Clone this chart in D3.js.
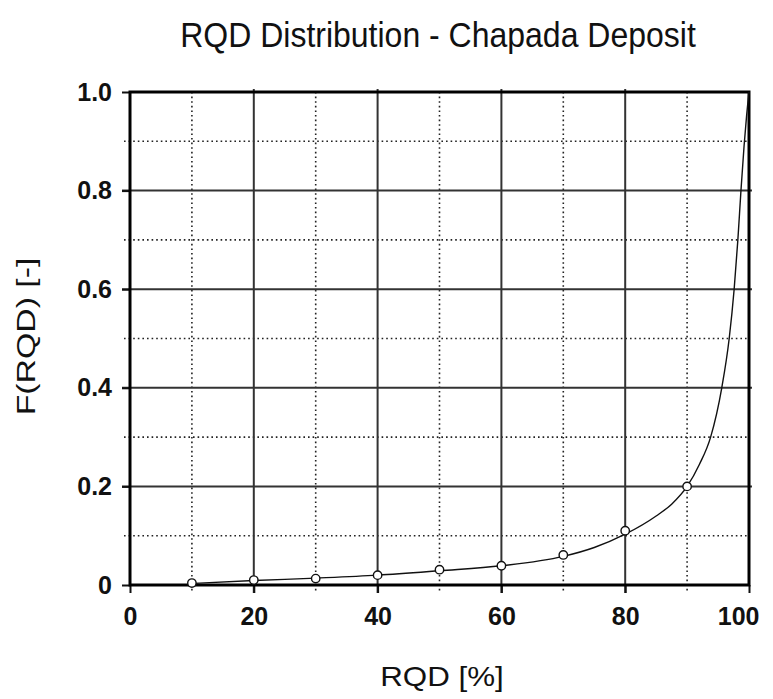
<!DOCTYPE html>
<html>
<head>
<meta charset="utf-8">
<script src="https://cdn.jsdelivr.net/npm/d3@7"></script>
<style>
  body { margin: 0; background: #fff; }
  svg text { font-family: "Liberation Sans", Arial, sans-serif; fill: #111; }
</style>
</head>
<body>
<div id="chart"></div>
<script>
// RQD distribution: observed points and fitted cumulative curve

const rqdPoints = [10, 20, 30, 40, 50, 60, 70, 80, 90];
const fPoints = [0.004, 0.01, 0.013, 0.02, 0.031, 0.039, 0.061, 0.11, 0.2];

// fitted curve
const rqdCurve = [10, 20, 30, 40, 50, 60, 70, 75, 80, 85, 87.5, 90, 92, 93.8, 95.6, 96.8, 97.6, 98.2, 98.7, 99.2, 99.6, 100];
const fCurve = [0.003, 0.009, 0.014, 0.02, 0.029, 0.039, 0.058, 0.076, 0.103, 0.14, 0.164, 0.2, 0.245, 0.3, 0.4, 0.5, 0.6, 0.7, 0.8, 0.89, 0.95, 1.0];

const xTicks = [0, 20, 40, 60, 80, 100];
const yTicks = [0, 0.2, 0.4, 0.6, 0.8, 1.0];
const xMinor = [10, 30, 50, 70, 90];
const yMinor = [0.1, 0.3, 0.5, 0.7, 0.9];

const width = 773, height = 699;
const margin = { top: 92, right: 24, bottom: 114, left: 130 };
const innerWidth = width - margin.left - margin.right;
const innerHeight = height - margin.top - margin.bottom;

const svg = d3.select("#chart")
    .append("svg")
    .attr("width", width)
    .attr("height", height);

const g = svg.append("g")
    .attr("transform", `translate(${margin.left},${margin.top})`);

// Scales
const x = d3.scaleLinear().domain([0, 100]).range([0, innerWidth]);
const y = d3.scaleLinear().domain([0, 1]).range([innerHeight, 0]);

// Minor grid (dotted)
g.append("g")
    .selectAll("line")
    .data(xMinor)
    .enter()
    .append("line")
    .attr("x1", d => x(d)).attr("x2", d => x(d))
    .attr("y1", 0).attr("y2", innerHeight + 6)
    .attr("stroke", "#222")
    .attr("stroke-width", 1.6)
    .attr("stroke-dasharray", "1.6,3");

g.append("g")
    .selectAll("line")
    .data(yMinor)
    .enter()
    .append("line")
    .attr("x1", -6).attr("x2", innerWidth)
    .attr("y1", d => y(d)).attr("y2", d => y(d))
    .attr("stroke", "#222")
    .attr("stroke-width", 1.6)
    .attr("stroke-dasharray", "1.6,3");

// Major grid (solid)
g.append("g")
    .selectAll("line")
    .data(xTicks.slice(1, -1))
    .enter()
    .append("line")
    .attr("x1", d => x(d)).attr("x2", d => x(d))
    .attr("y1", -3).attr("y2", innerHeight + 8)
    .attr("stroke", "#333")
    .attr("stroke-width", 2);

g.append("g")
    .selectAll("line")
    .data(yTicks.slice(1, -1))
    .enter()
    .append("line")
    .attr("x1", -8).attr("x2", innerWidth + 3)
    .attr("y1", d => y(d)).attr("y2", d => y(d))
    .attr("stroke", "#333")
    .attr("stroke-width", 2);

// Axes
const xAxis = g.append("g")
    .attr("transform", `translate(0,${innerHeight})`)
    .call(d3.axisBottom(x).tickValues(xTicks).tickSize(8).tickPadding(14).tickFormat(d3.format("d")));

const yAxis = g.append("g")
    .call(d3.axisLeft(y).tickValues(yTicks).tickSize(8).tickPadding(10)
        .tickFormat(d => d === 0 ? "0" : d3.format(".1f")(d)));

[xAxis, yAxis].forEach(a => {
    a.select(".domain").remove();
    a.selectAll(".tick line").attr("stroke", "#111").attr("stroke-width", 2);
    a.selectAll("text")
        .attr("font-size", "25px")
        .attr("font-weight", "bold")
        .attr("fill", "#111");
});

// last x label sits a bit inside so it is not clipped
xAxis.selectAll(".tick text")
    .filter(d => d === 100)
    .attr("text-anchor", "end")
    .attr("x", 10);

// Frame
g.append("rect")
    .attr("x", 0).attr("y", 0)
    .attr("width", innerWidth).attr("height", innerHeight)
    .attr("fill", "none")
    .attr("stroke", "#000")
    .attr("stroke-width", 3);

// Fitted curve
const curveData = rqdCurve.map((r, i) => ({ rqd: r, f: fCurve[i] }));
g.append("path")
    .datum(curveData)
    .attr("fill", "none")
    .attr("stroke", "#111")
    .attr("stroke-width", 1.4)
    .attr("d", d3.line()
        .x(d => x(d.rqd))
        .y(d => y(d.f))
        .curve(d3.curveMonotoneX));

// Observed points
g.selectAll(".pt")
    .data(rqdPoints.map((r, i) => ({ rqd: r, f: fPoints[i] })))
    .enter()
    .append("circle")
    .attr("class", "pt")
    .attr("cx", d => x(d.rqd))
    .attr("cy", d => y(d.f))
    .attr("r", 4.2)
    .attr("fill", "#fff")
    .attr("stroke", "#111")
    .attr("stroke-width", 1.4);

// Title and axis labels
svg.append("text")
    .attr("transform", "translate(438,47) scale(1,1.1)")
    .attr("text-anchor", "middle")
    .attr("font-size", "32px")
    .text("RQD Distribution - Chapada Deposit");

svg.append("text")
    .attr("transform", "translate(442,686) scale(1.12,1)")
    .attr("text-anchor", "middle")
    .attr("font-size", "28px")
    .text("RQD [%]");

svg.append("text")
    .attr("transform", `translate(35,${margin.top + innerHeight / 2 - 2}) rotate(-90) scale(1.3,1)`)
    .attr("text-anchor", "middle")
    .attr("font-size", "26px")
    .text("F(RQD) [-]");
</script>
</body>
</html>
